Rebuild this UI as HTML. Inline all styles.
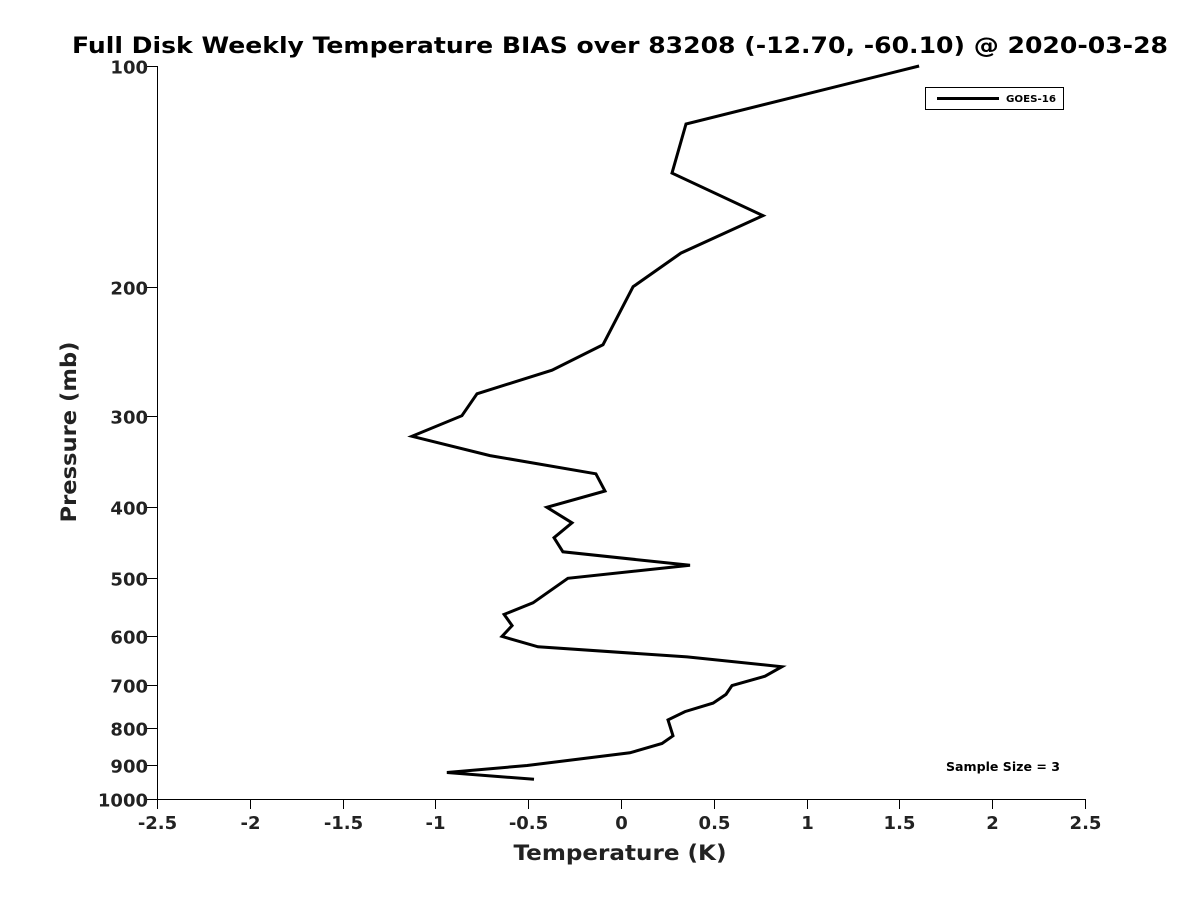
<!DOCTYPE html>
<html><head><meta charset="utf-8"><style>
html,body{margin:0;padding:0;background:#fff;}
svg{display:block;font-family:"DejaVu Sans","Liberation Sans",sans-serif;}
</style></head><body>
<svg id="chart" width="1200" height="900" viewBox="0 0 1200 900">
<text x="620" y="53" text-anchor="middle" font-size="22" font-weight="bold" textLength="1096" lengthAdjust="spacingAndGlyphs">Full Disk Weekly Temperature BIAS over 83208 (-12.70, -60.10) @ 2020-03-28</text>
<g id="axes"></g>
<path id="line" fill="none" stroke="#000" stroke-width="3" stroke-linejoin="miter"/>
<g>
<rect x="925.5" y="87.5" width="138" height="22" fill="#fff" stroke="#000" stroke-width="1"/>
<line x1="937" y1="98.5" x2="999" y2="98.5" stroke="#000" stroke-width="3"/>
<text x="1006" y="102" font-size="10" font-weight="bold" textLength="50" lengthAdjust="spacingAndGlyphs">GOES-16</text>
</g>
<text x="946" y="771" font-size="12" font-weight="bold" textLength="114" lengthAdjust="spacingAndGlyphs">Sample Size = 3</text>
<text x="620" y="860" text-anchor="middle" font-size="21" font-weight="bold" textLength="213" lengthAdjust="spacingAndGlyphs" fill="#222">Temperature (K)</text>
<text transform="translate(76,432) rotate(-90)" text-anchor="middle" font-size="21" font-weight="bold" textLength="181" lengthAdjust="spacingAndGlyphs" fill="#222">Pressure (mb)</text>
</svg>
<script>
const pressures = [100,120,140,160,180,200,240,260,280,300,320,340,360,380,400,420,440,460,480,500,540,560,580,600,620,640,660,680,700,720,740,760,780,820,840,865,900,920,940];
const bias = [1.606,0.350,0.275,0.765,0.323,0.065,-0.097,-0.372,-0.776,-0.857,-1.126,-0.706,-0.135,-0.086,-0.399,-0.264,-0.361,-0.313,0.372,-0.286,-0.474,-0.630,-0.587,-0.641,-0.447,0.356,0.867,0.776,0.598,0.566,0.496,0.345,0.253,0.280,0.221,0.048,-0.506,-0.938,-0.469];
const xTicks = [-2.5,-2,-1.5,-1,-0.5,0,0.5,1,1.5,2,2.5];
const yTicks = [100,200,300,400,500,600,700,800,900,1000];
const NS="http://www.w3.org/2000/svg";
const X0=157,X1=1085,Y0=66,Y1=799;
function xs(v){return X0+(v+2.5)/5*(X1-X0);}
function ys(p){return Y0+Math.log10(p/100)*(Y1-Y0);}
const ax=document.getElementById('axes');
function mk(tag,attrs,parent){const e=document.createElementNS(NS,tag);for(const k in attrs)e.setAttribute(k,attrs[k]);parent.appendChild(e);return e;}
const xl=mk('line',{x1:X0,y1:Y1+0.5,x2:X1,y2:Y1+0.5,stroke:'#000','stroke-width':1},ax);


const yl=mk('line',{x1:X0+0.5,y1:Y0,x2:X0+0.5,y2:Y1,stroke:'#000','stroke-width':1},ax);


xTicks.forEach(t=>{
  const x=Math.round(xs(t))+0.5;
  const l=mk('line',{x1:x,y1:Y1,x2:x,y2:Y1+10,stroke:'#000','stroke-width':1},ax);
  
  
  const tx=mk('text',{x:x,y:Y1+30,'text-anchor':'middle','font-size':18,'font-weight':'bold',fill:'#222'},ax);
  tx.textContent=String(t);
  
  
});
yTicks.forEach(t=>{
  const y=Math.round(ys(t))+0.5;
  const l=mk('line',{x1:X0-10,y1:y,x2:X0,y2:y,stroke:'#000','stroke-width':1},ax);
  
  
  const tx=mk('text',{x:X0-9,y:y+7,'text-anchor':'end','font-size':18,'font-weight':'bold',fill:'#222'},ax);
  tx.textContent=String(t);
  
  
});
document.getElementById('line').setAttribute('d',pressures.map((p,i)=>(i?'L':'M')+xs(bias[i]).toFixed(1)+' '+ys(p).toFixed(1)).join(' '));
</script>
</body></html>
